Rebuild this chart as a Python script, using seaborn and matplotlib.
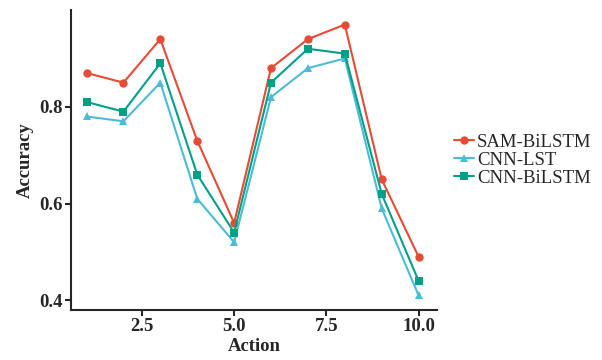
import pandas as pd
import matplotlib.pyplot as plt
import seaborn as sns

actions = [1, 2, 3, 4, 5, 6, 7, 8, 9, 10]
sam_bilstm = [0.87, 0.85, 0.94, 0.73, 0.56, 0.88, 0.94, 0.97, 0.65, 0.49]
cnn_lst = [0.78, 0.77, 0.85, 0.61, 0.52, 0.82, 0.88, 0.90, 0.59, 0.41]
cnn_bilstm = [0.81, 0.79, 0.89, 0.66, 0.54, 0.85, 0.92, 0.91, 0.62, 0.44]
model_names = ['SAM-BiLSTM', 'CNN-LST', 'CNN-BiLSTM']

# long format for seaborn
rows = []
for name, vals in zip(model_names, [sam_bilstm, cnn_lst, cnn_bilstm]):
    for a, v in zip(actions, vals):
        rows.append({'Action': a, 'Accuracy': v, 'Model': name})
df = pd.DataFrame(rows)

sns.set_style("ticks")
plt.rcParams['font.family'] = ['Liberation Serif', 'DejaVu Serif']

palette = {'SAM-BiLSTM': '#E64B35', 'CNN-LST': '#4DBBD5', 'CNN-BiLSTM': '#00A087'}
markers = {'SAM-BiLSTM': 'o', 'CNN-LST': '^', 'CNN-BiLSTM': 's'}

fig = plt.figure(figsize=(6.02, 3.6), dpi=100)
ax = fig.add_axes([0.118, 0.139, 0.608, 0.833])

sns.lineplot(data=df, x='Action', y='Accuracy', hue='Model', style='Model',
             palette=palette, markers=markers, dashes=False, markersize=6,
             markeredgewidth=0, linewidth=1.5, ax=ax)

ax.set_xlim(0.58, 10.5)
ax.set_ylim(0.38, 1.0)
ax.set_xticks([2.5, 5.0, 7.5, 10.0])
ax.set_yticks([0.4, 0.6, 0.8])
ax.tick_params(labelsize=13.5, width=1.5, length=4, pad=2)
for lbl in ax.get_xticklabels() + ax.get_yticklabels():
    lbl.set_fontweight('bold')
ax.set_xlabel('Action', fontsize=13.5, fontweight='bold', labelpad=2)
ax.set_ylabel('Accuracy', fontsize=13.5, fontweight='bold', labelpad=4)
sns.despine(ax=ax)
ax.spines['left'].set_linewidth(1.5)
ax.spines['bottom'].set_linewidth(1.5)

leg = ax.legend(loc='center left', bbox_to_anchor=(1.025, 0.5), frameon=False,
                fontsize=13.5, handlelength=1.1, handletextpad=0.15,
                labelspacing=0.05, borderaxespad=0)

fig.savefig('out.png', dpi=100)
